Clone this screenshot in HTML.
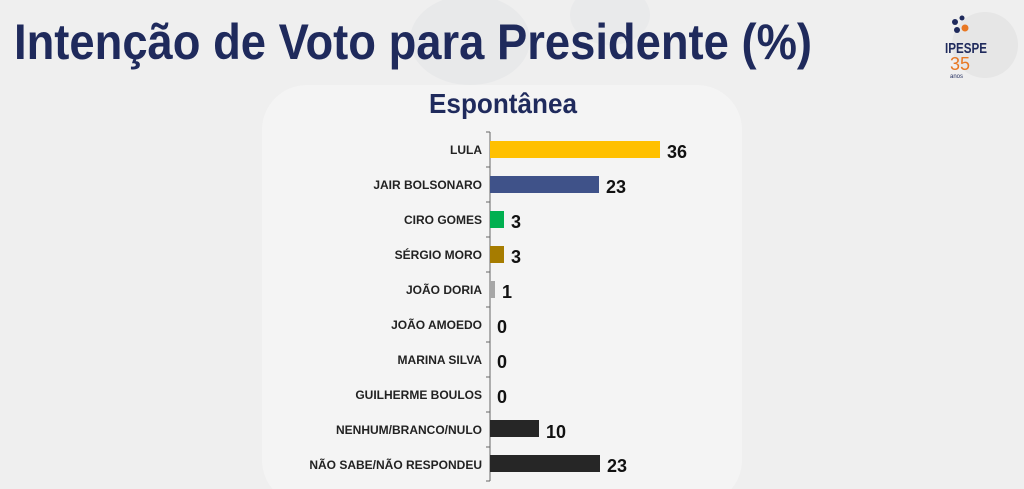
<!DOCTYPE html>
<html><head><meta charset="utf-8"><style>
body{margin:0;width:1024px;height:489px;overflow:hidden;background:#efefef;font-family:"Liberation Sans",sans-serif}
</style></head><body>
<svg width="1024" height="489" viewBox="0 0 1024 489" xmlns="http://www.w3.org/2000/svg" style="display:block">
<rect width="1024" height="489" fill="#efefef"/>
<ellipse cx="470" cy="40" rx="60" ry="45" fill="#e8e9ea"/>
<ellipse cx="610" cy="15" rx="40" ry="30" fill="#e9eaeb"/>
<rect x="262" y="85" width="480" height="420" rx="45" fill="#f4f4f4"/>
<text x="14" y="59" font-size="50" font-weight="bold" fill="#1f2a5c" textLength="798" lengthAdjust="spacingAndGlyphs">Intenção de Voto para Presidente (%)</text>
<text x="503" y="113" font-size="28" font-weight="bold" fill="#1f2a5c" text-anchor="middle" textLength="148" lengthAdjust="spacingAndGlyphs">Espontânea</text>
<!-- logo -->
<circle cx="985" cy="45" r="33" fill="#e6e6e6"/>
<circle cx="955" cy="22" r="3" fill="#1f2a5c"/><circle cx="962" cy="18" r="2.5" fill="#1f2a5c"/>
<circle cx="957" cy="30" r="3" fill="#1f2a5c"/><circle cx="965" cy="28" r="3.5" fill="#e87722"/>
<text x="945" y="53" font-size="15" font-weight="bold" fill="#1f2a5c" textLength="42" lengthAdjust="spacingAndGlyphs">IPESPE</text>
<text x="950" y="70" font-size="18" fill="#e87722">35</text>
<text x="950" y="78" font-size="6" fill="#1f2a5c">anos</text>
<line x1="490" y1="132" x2="490" y2="481" stroke="#666" stroke-width="1"/>
<g stroke="#666"><line x1="486" x2="490" y1="132" y2="132"/><line x1="486" x2="490" y1="167" y2="167"/><line x1="486" x2="490" y1="202" y2="202"/><line x1="486" x2="490" y1="237" y2="237"/><line x1="486" x2="490" y1="272" y2="272"/><line x1="486" x2="490" y1="307" y2="307"/><line x1="486" x2="490" y1="342" y2="342"/><line x1="486" x2="490" y1="377" y2="377"/><line x1="486" x2="490" y1="412" y2="412"/><line x1="486" x2="490" y1="447" y2="447"/><line x1="486" x2="490" y1="481" y2="481"/></g>
<g font-size="12" font-weight="bold" fill="#222" text-anchor="end">
<text x="482" y="154">LULA</text>
<text x="482" y="189">JAIR BOLSONARO</text>
<text x="482" y="224">CIRO GOMES</text>
<text x="482" y="259">SÉRGIO MORO</text>
<text x="482" y="294">JOÃO DORIA</text>
<text x="482" y="329">JOÃO AMOEDO</text>
<text x="482" y="364">MARINA SILVA</text>
<text x="482" y="399">GUILHERME BOULOS</text>
<text x="482" y="434">NENHUM/BRANCO/NULO</text>
<text x="482" y="469">NÃO SABE/NÃO RESPONDEU</text>
</g>
<rect x="490" y="141" width="170" height="17" fill="#ffc000"/>
<rect x="490" y="176" width="109" height="17" fill="#3f5289"/>
<rect x="490" y="211" width="14" height="17" fill="#00b050"/>
<rect x="490" y="246" width="14" height="17" fill="#a67c00"/>
<rect x="490" y="281" width="5" height="17" fill="#a6a6a6"/>
<rect x="490" y="420" width="49" height="17" fill="#262626"/>
<rect x="490" y="455" width="110" height="17" fill="#262626"/>
<g font-size="18" font-weight="bold" fill="#111">
<text x="667" y="158">36</text>
<text x="606" y="193">23</text>
<text x="511" y="228">3</text>
<text x="511" y="263">3</text>
<text x="502" y="298">1</text>
<text x="497" y="333">0</text>
<text x="497" y="368">0</text>
<text x="497" y="403">0</text>
<text x="546" y="438">10</text>
<text x="607" y="472">23</text>
</g>
</svg>
</body></html>
